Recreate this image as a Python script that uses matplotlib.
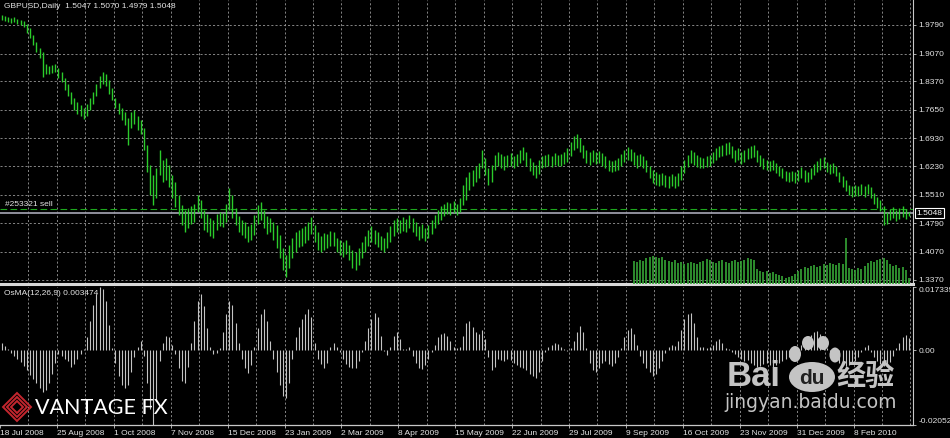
import numpy as np
import matplotlib
matplotlib.use('Agg')
import matplotlib.pyplot as plt
from matplotlib.patches import Polygon, Ellipse

########################### style ############################
plt.rcParams['font.family'] = ['Liberation Sans', 'DejaVu Sans']
bg_color = 'black'
bar_color = '#2bcc2b'
vol_color = '#35a535'
osma_color = '#c4c4c4'
grid_color = '#9a9a9a'
axis_color = '#c8c8c8'
text_color = '#e4e4e4'
sell_color = '#1fa81f'
bid_color = '#9a9aa8'
label_size = 6
W, H = 950.0, 438.0

########################### data ############################
symbol_header = 'GBPUSD,Daily  1.5047 1.5070 1.4979 1.5048'
osma_header = 'OsMA(12,26,9) 0.003474'
order_label = '#253321 sell'
sell_price = 1.5145
bid_price = 1.5048

price_ticks = [1.9790, 1.9070, 1.8370, 1.7650, 1.6930, 1.6230, 1.5510, 1.4790, 1.4070, 1.3370]
price_range = (1.326, 2.042)

date_labels = ['18 Jul 2008', '25 Aug 2008', '1 Oct 2008', '7 Nov 2008', '15 Dec 2008',
               '23 Jan 2009', '2 Mar 2009', '8 Apr 2009', '15 May 2009', '22 Jun 2009',
               '29 Jul 2009', '9 Sep 2009', '16 Oct 2009', '23 Nov 2009', '31 Dec 2009',
               '8 Feb 2010']
bars_per_label = 18

bar_high = [
    2.004, 2.002, 1.999, 1.997, 1.999, 1.994, 1.992, 1.989, 1.981, 1.971,
    1.954, 1.936, 1.921, 1.911, 1.881, 1.876, 1.878, 1.881, 1.871, 1.860,
    1.845, 1.830, 1.810, 1.795, 1.785, 1.777, 1.770, 1.780, 1.795, 1.810,
    1.830, 1.850, 1.860, 1.855, 1.840, 1.820, 1.795, 1.782, 1.770, 1.760,
    1.745, 1.760, 1.765, 1.750, 1.740, 1.719, 1.676, 1.626, 1.601, 1.619,
    1.664, 1.639, 1.644, 1.626, 1.601, 1.583, 1.550, 1.525, 1.513, 1.518,
    1.523, 1.528, 1.550, 1.538, 1.513, 1.503, 1.492, 1.487, 1.503, 1.508,
    1.505, 1.528, 1.568, 1.550, 1.518, 1.497, 1.487, 1.482, 1.472, 1.477,
    1.500, 1.525, 1.533, 1.513, 1.497, 1.492, 1.482, 1.475, 1.450, 1.417,
    1.399, 1.424, 1.442, 1.457, 1.462, 1.467, 1.472, 1.482, 1.495, 1.475,
    1.457, 1.447, 1.455, 1.452, 1.460, 1.457, 1.442, 1.437, 1.432, 1.437,
    1.424, 1.412, 1.407, 1.417, 1.432, 1.447, 1.462, 1.472, 1.462, 1.457,
    1.447, 1.442, 1.457, 1.472, 1.487, 1.492, 1.487, 1.495, 1.490, 1.500,
    1.492, 1.482, 1.472, 1.477, 1.467, 1.475, 1.487, 1.500, 1.513, 1.523,
    1.528, 1.533, 1.530, 1.535, 1.528, 1.543, 1.576, 1.596, 1.608, 1.613,
    1.624, 1.631, 1.664, 1.644, 1.619, 1.626, 1.651, 1.659, 1.654, 1.649,
    1.651, 1.656, 1.649, 1.654, 1.664, 1.671, 1.659, 1.644, 1.634, 1.626,
    1.639, 1.649, 1.651, 1.654, 1.649, 1.656, 1.651, 1.654, 1.659, 1.669,
    1.684, 1.699, 1.704, 1.694, 1.676, 1.664, 1.659, 1.664, 1.659, 1.661,
    1.656, 1.649, 1.639, 1.636, 1.639, 1.644, 1.654, 1.664, 1.671, 1.666,
    1.659, 1.651, 1.654, 1.649, 1.639, 1.624, 1.613, 1.608, 1.603, 1.606,
    1.601, 1.598, 1.603, 1.598, 1.606, 1.624, 1.639, 1.651, 1.664, 1.659,
    1.651, 1.646, 1.644, 1.649, 1.651, 1.659, 1.669, 1.674, 1.676, 1.681,
    1.684, 1.674, 1.664, 1.669, 1.659, 1.664, 1.669, 1.674, 1.676, 1.664,
    1.651, 1.644, 1.639, 1.636, 1.639, 1.631, 1.624, 1.619, 1.611, 1.608,
    1.611, 1.608, 1.613, 1.621, 1.613, 1.608, 1.619, 1.629, 1.636, 1.644,
    1.646, 1.634, 1.629, 1.631, 1.624, 1.608, 1.598, 1.588, 1.576, 1.573,
    1.576, 1.573, 1.578, 1.573, 1.578, 1.571, 1.555, 1.545, 1.538, 1.523,
    1.508, 1.515, 1.520, 1.513, 1.518, 1.523, 1.515, 1.5070]

bar_low = [
    1.992, 1.989, 1.987, 1.984, 1.987, 1.981, 1.979, 1.974, 1.959, 1.946,
    1.929, 1.911, 1.896, 1.848, 1.855, 1.855, 1.858, 1.860, 1.845, 1.835,
    1.815, 1.800, 1.780, 1.765, 1.755, 1.750, 1.742, 1.750, 1.765, 1.780,
    1.800, 1.820, 1.830, 1.825, 1.805, 1.790, 1.770, 1.755, 1.740, 1.727,
    1.676, 1.719, 1.729, 1.714, 1.704, 1.664, 1.608, 1.550, 1.525, 1.543,
    1.601, 1.583, 1.588, 1.571, 1.543, 1.520, 1.500, 1.475, 1.457, 1.467,
    1.477, 1.482, 1.508, 1.492, 1.462, 1.457, 1.447, 1.442, 1.462, 1.472,
    1.470, 1.482, 1.513, 1.492, 1.475, 1.457, 1.450, 1.442, 1.432, 1.437,
    1.450, 1.477, 1.487, 1.467, 1.452, 1.457, 1.437, 1.417, 1.392, 1.361,
    1.344, 1.366, 1.392, 1.407, 1.419, 1.422, 1.429, 1.437, 1.452, 1.432,
    1.412, 1.407, 1.412, 1.417, 1.422, 1.422, 1.407, 1.399, 1.394, 1.402,
    1.387, 1.366, 1.361, 1.374, 1.392, 1.407, 1.422, 1.432, 1.427, 1.419,
    1.412, 1.407, 1.417, 1.432, 1.447, 1.457, 1.455, 1.460, 1.457, 1.467,
    1.457, 1.447, 1.437, 1.442, 1.434, 1.442, 1.452, 1.467, 1.477, 1.487,
    1.497, 1.503, 1.500, 1.505, 1.500, 1.508, 1.525, 1.538, 1.563, 1.573,
    1.583, 1.593, 1.619, 1.601, 1.576, 1.583, 1.613, 1.624, 1.619, 1.613,
    1.621, 1.624, 1.619, 1.624, 1.631, 1.639, 1.624, 1.611, 1.601, 1.593,
    1.603, 1.619, 1.621, 1.624, 1.621, 1.626, 1.624, 1.624, 1.629, 1.634,
    1.649, 1.664, 1.669, 1.659, 1.644, 1.631, 1.626, 1.634, 1.629, 1.631,
    1.624, 1.619, 1.611, 1.608, 1.611, 1.613, 1.624, 1.634, 1.639, 1.636,
    1.626, 1.619, 1.624, 1.619, 1.608, 1.593, 1.581, 1.576, 1.573, 1.576,
    1.571, 1.568, 1.573, 1.568, 1.573, 1.588, 1.606, 1.621, 1.631, 1.626,
    1.621, 1.619, 1.619, 1.621, 1.624, 1.631, 1.639, 1.646, 1.649, 1.651,
    1.654, 1.644, 1.634, 1.639, 1.629, 1.634, 1.641, 1.644, 1.646, 1.634,
    1.624, 1.616, 1.613, 1.611, 1.613, 1.606, 1.598, 1.593, 1.586, 1.583,
    1.586, 1.581, 1.586, 1.593, 1.583, 1.583, 1.591, 1.601, 1.608, 1.613,
    1.619, 1.608, 1.603, 1.606, 1.598, 1.583, 1.571, 1.561, 1.550, 1.545,
    1.548, 1.548, 1.550, 1.545, 1.553, 1.543, 1.528, 1.518, 1.510, 1.475,
    1.477, 1.487, 1.492, 1.485, 1.490, 1.495, 1.490, 1.4979]

# tick volume, only shown for the last bars
tick_volume = [
    5750, 5500, 6000, 5750, 6500, 6750, 7000, 6750, 6500, 6750,
    6000, 5750, 5500, 6000, 5250, 5500, 5000, 5250, 5500, 5250,
    5000, 5500, 5750, 6250, 6000, 5500, 5250, 5750, 6000, 5500,
    5250, 5750, 6000, 5500, 5750, 6000, 6500, 6250, 6000, 3750,
    3250, 3000, 3250, 2750, 3000, 2500, 2250, 2000, 1500, 1750,
    2000, 2500, 3250, 3750, 4250, 4000, 4500, 4750, 4250, 4500,
    5000, 4750, 5250, 5000, 4750, 5250, 5000, 11250, 4000, 3750,
    3500, 4000, 3750, 4500, 5250, 5750, 5500, 6000, 6250, 6500,
    6000, 5000, 4500, 4750, 4000, 4250, 3500, 1500]
volume_range = (0, 70000)

# OsMA(12,26,9) histogram, in units of 0.001
osma_milli = [
    2.0, 1.2, 0.3, -0.8, -1.5, -2.3, -3.2, -4.2, -5.5, -6.8,
    -7.8, -9.0, -10.5, -11.6, -11.0, -9.0, -6.5, -3.5, -1.0, -1.5,
    -2.5, -3.0, -4.5, -3.8, -2.5, -1.0, 0.3, 3.5, 8.0, 12.5,
    15.5, 17.3, 16.8, 13.5, 7.0, 0.5, -3.5, -7.0, -9.5, -10.5,
    -9.5, -6.0, -2.0, 0.8, 2.6, -1.5, -9.0, -16.0, -20.5, -14.0,
    -3.0, 2.0, 4.0, 3.5, 1.5, -1.0, -5.0, -8.5, -9.0, -4.5,
    2.0, 8.0, 13.5, 15.5, 12.0, 6.0, 1.0, -1.0, -0.8, 0.5,
    5.0, 10.0, 13.5, 12.5, 7.5, 2.0, -2.5, -5.0, -6.2, -4.0,
    1.0, 6.0, 10.0, 11.4, 8.0, 2.5, -2.5, -6.0, -9.5, -12.5,
    -13.0, -9.0, -2.5, 3.5, 6.5, 8.5, 10.0, 11.3, 9.0, 2.0,
    -2.5, -3.8, -4.8, -3.5, 0.8, 2.0, 0.8, -0.5, -2.5, -3.8,
    -4.5, -4.8, -4.9, -3.0, -0.5, 2.5, 6.0, 8.5, 10.3, 9.0,
    4.0, -0.3, -1.2, 1.0, 4.0, 5.0, 3.0, 0.3, 0.2, 1.0,
    -1.5, -3.5, -5.0, -5.2, -4.0, -2.5, -0.5, 1.5, 3.5, 4.5,
    4.8, 4.0, 2.5, 1.0, 0.5, 0.8, 4.0, 7.5, 8.0, 6.5,
    5.0, 4.5, 5.5, 3.0, -2.0, -5.5, -4.5, -2.5, -2.8, -3.0,
    -2.5, -2.8, -3.5, -4.0, -4.5, -4.8, -5.5, -6.5, -7.2, -7.6,
    -6.0, -3.0, -0.5, 0.8, 1.5, 2.0, 1.8, 1.0, 0.3, -0.2,
    0.5, 2.5, 5.0, 6.7, 5.0, 0.5, -3.5, -5.5, -6.0, -5.0,
    -3.5, -3.0, -3.8, -4.2, -3.5, -2.0, 0.5, 3.5, 5.5, 6.2,
    4.5, 1.5, -1.5, -3.5, -5.0, -6.0, -7.0, -6.5, -5.0, -3.0,
    -0.8, 1.0, 1.5, 1.2, 2.5, 5.5, 8.5, 10.0, 10.3, 7.5,
    3.5, 1.0, 0.8, 0.5, 0.8, 1.5, 2.5, 3.0, 2.0, 0.5,
    0.2, -0.5, -1.0, -1.8, -2.5, -3.0, -2.8, -3.5, -4.0, -4.5,
    -4.2, -3.8, -3.5, -4.0, -4.5, -4.0, -3.5, -3.0, -2.5, -2.0,
    -1.2, -0.5, 0.5, 1.5, 2.5, 3.5, 4.2, 5.0, 5.3, 4.5,
    3.0, 0.5, -1.0, -2.0, -2.8, -3.5, -4.0, -4.2, -4.0, -3.5,
    -3.0, -2.0, -0.5, 1.0, 1.5, -0.5, -2.0, -3.0, -3.8, -4.2,
    -4.0, -3.2, -1.5, 0.5, 2.0, 3.5, 4.2, 3.474]
osma_max = 0.017339
osma_min = -0.02052

########################### layout ############################
n_bars = len(bar_high)
x = np.arange(n_bars) + 0.5
x_max = 288.8
grid_x = np.arange(9, x_max, 9)
label_x = np.arange(len(date_labels)) * bars_per_label
osma = np.array(osma_milli) / 1000.0
vol_start = n_bars - len(tick_volume)

fig = plt.figure(figsize=(W / 100, H / 100), dpi=100)
fig.patch.set_facecolor(bg_color)
ax = fig.add_axes([0, 1 - 284 / H, 913 / W, 284 / H])
ax_osma = fig.add_axes([0, 13 / H, 913 / W, 138 / H])

for a in (ax, ax_osma):
    a.set_facecolor(bg_color)
    a.set_xlim(0, x_max)
    a.spines['top'].set_visible(False)
    a.spines['left'].set_visible(False)
    a.spines['right'].set_color(axis_color)
    a.spines['right'].set_linewidth(0.8)
    for gx in grid_x:
        a.axvline(gx, color=grid_color, linestyle=(0, (2.5, 2.5)), linewidth=0.6, zorder=0)

ax.spines['bottom'].set_color('#d8d8d8')
ax.spines['bottom'].set_linewidth(2.2)
ax_osma.spines['bottom'].set_color(axis_color)
ax_osma.spines['bottom'].set_linewidth(0.9)

########################### price panel ############################
ax.set_ylim(*price_range)
for p in price_ticks:
    ax.axhline(p, color=grid_color, linestyle=(0, (2.5, 2.5)), linewidth=0.6, zorder=0)

ax.axhline(sell_price, color=sell_color, linestyle=(0, (6, 3)), linewidth=0.8, zorder=1)
ax.axhline(bid_price, color=bid_color, linewidth=1.3, zorder=1)
ax.vlines(x, bar_low, bar_high, colors=bar_color, linewidth=1.0, zorder=2)

ax_vol = ax.twinx()
ax_vol.set_ylim(*volume_range)
ax_vol.set_axis_off()
ax_vol.vlines(x[vol_start:], 0, tick_volume, colors=vol_color, linewidth=1.2)

ax.yaxis.tick_right()
ax.set_yticks(price_ticks)
ax.set_yticklabels([f'{p:.4f}' for p in price_ticks])
ax.tick_params(axis='y', colors=axis_color, labelcolor=text_color, labelsize=label_size,
               length=2.5, width=0.6, pad=1.5)
ax.tick_params(axis='x', bottom=False, labelbottom=False)

ax.text(1.004, bid_price, f'{bid_price:.4f}', transform=ax.get_yaxis_transform(),
        fontsize=label_size, color='white', va='center', ha='left',
        bbox=dict(boxstyle='square,pad=0.18', fc='black', ec='white', lw=0.8))
ax.text(1.5, sell_price + 0.003, order_label, fontsize=label_size, color=text_color,
        va='bottom', ha='left')
fig.text(4 / W, 1 - 7 / H, symbol_header, fontsize=label_size, color=text_color,
         va='center', ha='left')

########################### OsMA panel ############################
ax_osma.set_ylim(osma_min, osma_max)
ax_osma.vlines(x, 0, osma, colors=osma_color, linewidth=0.8)
ax_osma.yaxis.tick_right()
ax_osma.set_yticks([osma_max, 0.0, osma_min])
ax_osma.set_yticklabels([f'{osma_max:.6f}', '0.00', f'{osma_min:.5f}'])
ax_osma.tick_params(axis='y', colors=axis_color, labelcolor=text_color, labelsize=label_size,
                    length=2.5, width=0.6, pad=1.5)
ylabels = ax_osma.get_yticklabels()
ylabels[0].set_va('top')
ylabels[2].set_va('bottom')

ax_osma.set_xticks(label_x)
ax_osma.set_xticklabels(date_labels, ha='left')
ax_osma.tick_params(axis='x', colors=axis_color, labelcolor=text_color, labelsize=label_size,
                    length=2.5, width=0.6, pad=1.0)
ax_osma.text(0.004, 0.955, osma_header, transform=ax_osma.transAxes, fontsize=label_size,
             color=text_color, va='center', ha='left')

########################### watermarks ############################
def px(xp, yp):
    return (xp / W, 1 - yp / H)

for r in (14, 10, 6):
    diamond = [px(17 - r, 407), px(17, 407 - r), px(17 + r, 407), px(17, 407 + r)]
    fig.add_artist(Polygon(diamond, closed=True, fill=False, ec='#c4262e', lw=1.4,
                           transform=fig.transFigure))
fig.text(35 / W, 1 - 408 / H, 'VANTAGE FX', fontsize=15.5, color='white',
         family=['Lato', 'DejaVu Sans'], va='center', ha='left')

mark_color = '#c4c4c4'
fig.text(727 / W, 1 - 376 / H, 'Bai', fontsize=25, fontweight='bold', color=mark_color,
         va='center', ha='left')
for (cx, cy, w, h) in [(812, 377, 46, 30), (795, 354, 12, 16), (808, 343, 12, 14),
                       (823, 343, 12, 14), (835, 355, 11, 15)]:
    fig.add_artist(Ellipse(px(cx, cy), w / W, h / H, fc=mark_color, ec='none',
                           transform=fig.transFigure))
fig.text(812 / W, 1 - 379 / H, 'du', fontsize=15, fontweight='bold', color='#202020',
         va='center', ha='center')
fig.text(866 / W, 1 - 376 / H, '经验', fontsize=21, fontweight='bold', color=mark_color,
         family=['Noto Sans CJK SC', 'DejaVu Sans'], va='center', ha='center')
fig.text(811 / W, 1 - 403 / H, 'jingyan.baidu.com', fontsize=13.5, color=mark_color,
         family=['DejaVu Sans'], va='center', ha='center')

fig.savefig('out.png', dpi=100, facecolor=bg_color)
